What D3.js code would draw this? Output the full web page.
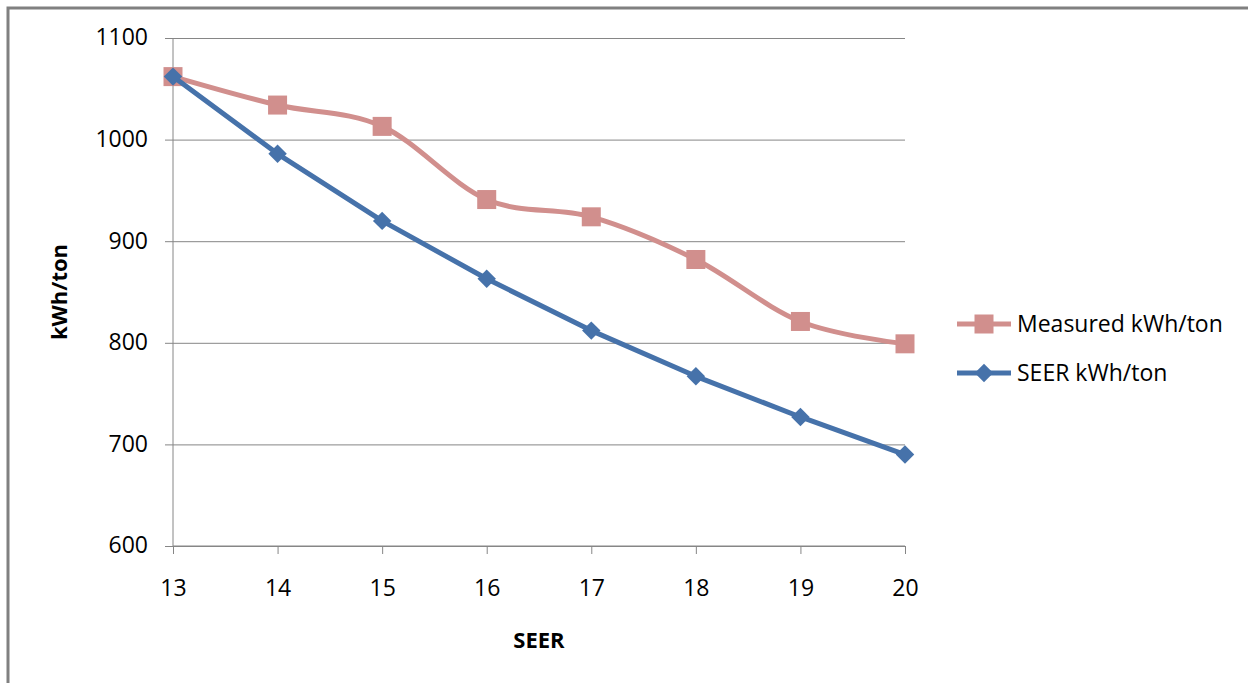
<!DOCTYPE html>
<html>
<head>
<meta charset="utf-8">
<script src="https://cdn.jsdelivr.net/npm/d3@7"></script>
<style>
  body { margin: 0; background: #fff; }
</style>
</head>
<body>
<div id="chart"></div>
<script>
const seer = [13, 14, 15, 16, 17, 18, 19, 20];
const measured = [1062, 1034, 1013, 941, 924, 882, 821, 799];
const seerKwh = [1062, 986, 920, 863, 812, 767, 727, 690];
const yTicks = [600, 700, 800, 900, 1000, 1100];
const seriesNames = ['Measured kWh/ton', 'SEER kWh/ton'];

const width = 1248;
const height = 683;
const fontFamily = '"Open Sans", "DejaVu Sans", sans-serif';
const fontSize = '23px';
const gridColor = '#868686';
const pink = '#D18F8D';
const blue = '#4672AA';

const xScale = d3.scaleLinear().domain([13, 20]).range([173, 905]);
const yScale = d3.scaleLinear().domain([600, 1100]).range([546, 38]);

const svg = d3.select('#chart').append('svg')
    .attr('width', width)
    .attr('height', height);

// outer frame (only top and left visible)
svg.append('path')
    .attr('d', `M8,${height} L8,8 L${width},8`)
    .attr('fill', 'none')
    .attr('stroke', '#808080')
    .attr('stroke-width', 3);

const g = svg.append('g');

// y axis with gridlines
g.append('g')
    .attr('transform', `translate(${xScale(13)},0)`)
    .call(d3.axisLeft(yScale).tickValues(yTicks).tickFormat(d3.format('d'))
        .tickSizeInner(-(xScale(20) - xScale(13))).tickSizeOuter(0).tickPadding(0))
    .call(a => a.select('.domain').remove())
    .call(a => a.selectAll('.tick line')
        .attr('x1', -8)
        .attr('stroke', gridColor))
    .call(a => a.selectAll('.tick text')
        .attr('x', -25)
        .attr('dy', '0.3em')
        .style('font-family', fontFamily)
        .style('font-size', fontSize)
        .attr('fill', '#000'));

// vertical axis line
g.append('line')
    .attr('x1', xScale(13)).attr('x2', xScale(13))
    .attr('y1', yScale(1100)).attr('y2', yScale(600))
    .attr('stroke', gridColor);

// x axis
g.append('g')
    .attr('transform', `translate(0,${yScale(600)})`)
    .call(d3.axisBottom(xScale).tickValues(seer).tickSize(8).tickFormat(d3.format('d')))
    .call(a => a.select('.domain').attr('stroke', gridColor).attr('d', `M${xScale(13)},0H${xScale(20)}`))
    .call(a => a.selectAll('.tick line').attr('stroke', gridColor))
    .call(a => a.selectAll('.tick text')
        .attr('y', 50)
        .attr('dy', 0)
        .style('font-family', fontFamily)
        .style('font-size', fontSize)
        .attr('fill', '#000'));

// axis titles
svg.append('text')
    .attr('x', 539)
    .attr('y', 648)
    .attr('text-anchor', 'middle')
    .style('font-family', fontFamily)
    .style('font-size', '22px')
    .style('font-weight', 'bold')
    .text('SEER');

svg.append('text')
    .attr('transform', 'translate(67,292) rotate(-90)')
    .attr('text-anchor', 'middle')
    .style('font-family', fontFamily)
    .style('font-size', '22px')
    .style('font-weight', 'bold')
    .text('kWh/ton');

// measured series (smoothed)
const measuredLine = d3.line()
    .x((d, i) => xScale(seer[i]))
    .y(d => yScale(d))
    .curve(d3.curveCatmullRom.alpha(0));

g.append('path')
    .datum(measured)
    .attr('d', measuredLine)
    .attr('fill', 'none')
    .attr('stroke', pink)
    .attr('stroke-width', 5)
    .attr('stroke-linejoin', 'round');

g.selectAll('.sq').data(measured).join('rect')
    .attr('class', 'sq')
    .attr('x', (d, i) => xScale(seer[i]) - 9.5)
    .attr('y', d => yScale(d) - 9.5)
    .attr('width', 19)
    .attr('height', 19)
    .attr('fill', pink);

// SEER series (straight)
const seerLine = d3.line()
    .x((d, i) => xScale(seer[i]))
    .y(d => yScale(d));

g.append('path')
    .datum(seerKwh)
    .attr('d', seerLine)
    .attr('fill', 'none')
    .attr('stroke', blue)
    .attr('stroke-width', 5)
    .attr('stroke-linejoin', 'round');

const diamond = d3.symbol().type(d3.symbolSquare).size(170);

g.selectAll('.dm').data(seerKwh).join('path')
    .attr('class', 'dm')
    .attr('transform', (d, i) => `translate(${xScale(seer[i])},${yScale(d)}) rotate(45)`)
    .attr('d', diamond)
    .attr('fill', blue);

// legend
const legendY = [324, 373];
const legendColors = [pink, blue];
const legend = svg.append('g');

legend.selectAll('line').data(seriesNames).join('line')
    .attr('x1', 957).attr('x2', 1011)
    .attr('y1', (d, i) => legendY[i]).attr('y2', (d, i) => legendY[i])
    .attr('stroke', (d, i) => legendColors[i])
    .attr('stroke-width', 5);

legend.append('rect')
    .attr('x', 984 - 9.5).attr('y', legendY[0] - 9.5)
    .attr('width', 19).attr('height', 19)
    .attr('fill', pink);

legend.append('path')
    .attr('transform', `translate(984,${legendY[1]}) rotate(45)`)
    .attr('d', diamond)
    .attr('fill', blue);

legend.selectAll('text').data(seriesNames).join('text')
    .attr('x', 1017)
    .attr('y', (d, i) => legendY[i])
    .attr('dy', '0.36em')
    .style('font-family', fontFamily)
    .style('font-size', fontSize)
    .text(d => d);
</script>
</body>
</html>
